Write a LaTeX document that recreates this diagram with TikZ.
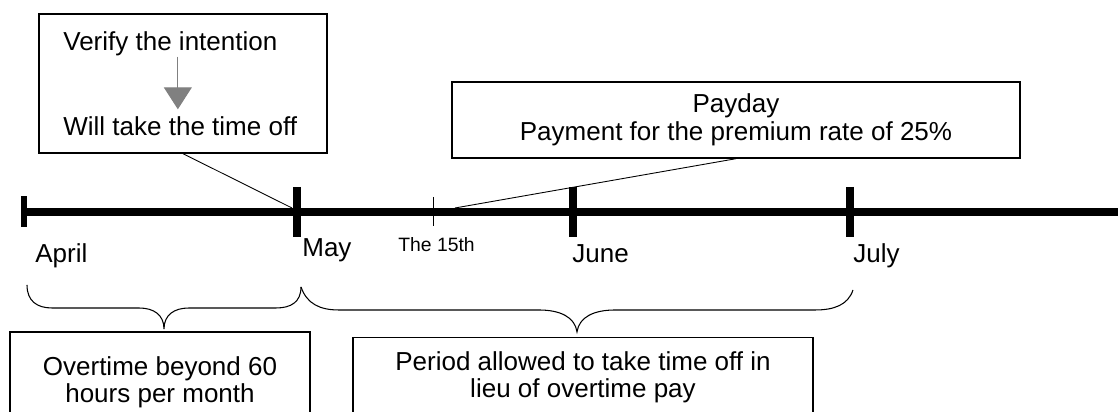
\documentclass[tikz,border=0pt]{standalone}
\usepackage{fontspec}
\setmainfont{Liberation Sans}
\usetikzlibrary{arrows.meta}

\begin{document}
\begin{tikzpicture}[scale=1,
  every node/.style={font=\fontsize{14.8}{15.9}\selectfont},
  month/.style={anchor=base west, inner sep=0pt},
  note/.style={draw, line width=0.8pt, align=center, inner sep=0pt},
  bar/.style={line width=4.5pt},
  monthtick/.style={line width=5pt},
  pointer/.style={line width=0.5pt},
  curly/.style={line width=0.6pt},
  intent/.style={gray, line width=0.6pt, -{Triangle[length=0.44cm, width=0.56cm]}}]
\useasboundingbox (0,0) rectangle (22.36,8.24);
\clip (0,0) rectangle (22.36,8.24);
% time line
\coordinate (start) at (0.48,4);
\coordinate (tend) at (22.6,4);
\coordinate (may) at (5.94,4);
\coordinate (fifteenth) at (8.66,4);
\coordinate (june) at (11.46,4);
\coordinate (july) at (17.0,4);
\coordinate (mayhit) at (5.84,4.08);
\coordinate (payhit) at (9.10,4.08);
\draw[bar] (start) -- (tend);
\draw[line width=3pt] (start) ++(0,0.31) -- ++(0,-0.62);
\draw[monthtick] (may) ++(0,0.5) -- ++(0,-1);
\draw[monthtick] (june) ++(0,0.5) -- ++(0,-1);
\draw[monthtick] (july) ++(0,0.5) -- ++(0,-1);
\draw[pointer] (fifteenth) ++(0,0.3) -- ++(0,-0.58);
\node[month] at (0.70, 2.98) (aprlab) {April};
\node[month] at (6.04, 3.10) (maylab) {May};
\node[month, font=\fontsize{11}{13}\selectfont] at (7.96, 3.20) (fiflab) {The 15th};
\node[month] at (11.44, 2.98) (junlab) {June};
\node[month] at (17.06, 2.98) (jullab) {July};
% boxes above
\node[note, minimum width=5.76cm, minimum height=2.78cm] at (3.66, 6.57) (vbox) {};
\node[month] at (1.26, 7.22) (vtop) {Verify the intention};
\node[month] at (1.26, 5.52) (vbot) {Will take the time off};
\draw[intent, shorten >=0.15cm] ([xshift=0.15cm]vtop.south) -- ([xshift=0.15cm]vtop.south |- vbot.north);
\node[note, minimum width=11.36cm, minimum height=1.52cm] at (14.72, 5.84) (paybox) {Payday\\Payment for the premium rate of 25\%};
\draw[pointer] (vbox.south) -- (mayhit);
\draw[pointer] (paybox.south) -- (payhit);
% braces and boxes below
\draw[curly] (0.54,2.54) .. controls (0.54,2.22) and (0.74,2.08) .. (1.04,2.08) -- (2.78,2.08)
  .. controls (3.08,2.08) and (3.28,1.94) .. (3.28,1.66) .. controls (3.28,1.94) and (3.48,2.08) .. (3.78,2.08)
  -- (5.52,2.08) .. controls (5.82,2.08) and (6.02,2.20) .. (6.02,2.50);
\draw[curly] (6.02,2.50) .. controls (6.14,2.16) and (6.40,2.04) .. (6.78,2.04) -- (10.78,2.04)
  .. controls (11.20,2.04) and (11.50,1.90) .. (11.54,1.60) .. controls (11.58,1.90) and (11.88,2.04) .. (12.30,2.04)
  -- (16.30,2.04) .. controls (16.68,2.04) and (16.96,2.14) .. (17.06,2.44);
\node[note, minimum width=6.0cm, minimum height=2.01cm] at (3.2, 0.594) (overbox) {Overtime beyond 60\\hours per month};
\node[note, minimum width=9.2cm, minimum height=1.6cm] at (11.66, 0.694) (lieubox) {Period allowed to take time off in\\lieu of overtime pay};
\end{tikzpicture}
\end{document}
